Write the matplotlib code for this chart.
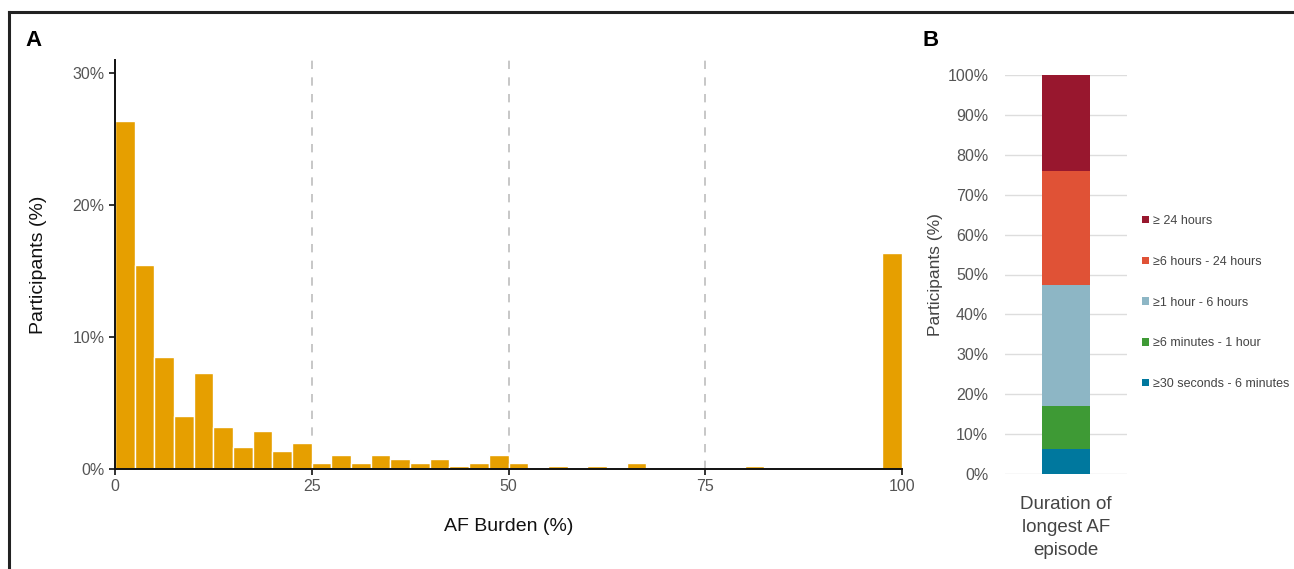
import matplotlib
matplotlib.use("Agg")
import matplotlib.pyplot as plt
from matplotlib.lines import Line2D
from matplotlib.patches import Patch
import numpy as np

plt.rcParams['font.family'] = ['Liberation Sans', 'DejaVu Sans']

# ---------------- Data ----------------
bin_edges = np.arange(0, 100.01, 2.5)  # 40 bins of 2.5%
burden_pct = [26.4, 15.5, 8.5, 4.0, 7.3, 3.2, 1.7, 2.9, 1.4, 2.0,
              0.48, 1.06, 0.48, 1.06, 0.76, 0.48, 0.76, 0.2, 0.48, 1.06,
              0.48, 0.0, 0.2, 0.0, 0.2, 0.0, 0.48, 0.0, 0.0, 0.0,
              0.0, 0.0, 0.2, 0.0, 0.0, 0.0, 0.0, 0.0, 0.0, 16.4]
x_ticks = [0, 25, 50, 75, 100]
x_ticklabels = ["0", "25", "50", "75", "100"]
y_ticks_a = [0, 10, 20, 30]
y_ticklabels_a = ["0%", "10%", "20%", "30%"]
ref_lines = [25, 50, 75]

duration_categories = ["\u226530 seconds - 6 minutes", "\u22656 minutes - 1 hour",
                       "\u22651 hour - 6 hours", "\u22656 hours - 24 hours",
                       "\u2265 24 hours"]
duration_pct = [6.3, 10.7, 30.4, 28.5, 24.1]
duration_colors = ["#00789E", "#3E9A35", "#8DB6C5", "#E05236", "#98172E"]
bar_label = "Duration of\nlongest AF\nepisode"

# ---------------- Figure ----------------
W, H = 1294, 569
fig = plt.figure(figsize=(W / 100, H / 100), dpi=100)

def ax_rect(x0, y0, x1, y1):
    return [x0 / W, 1 - y1 / H, (x1 - x0) / W, (y1 - y0) / H]

# Border lines (top and left)
fig.add_artist(Line2D([9 / W, 1.0], [1 - 11.5 / H, 1 - 11.5 / H], color="#222222", lw=2.2))
fig.add_artist(Line2D([9 / W, 9 / W], [1 - 11.5 / H, 0], color="#222222", lw=2.2))

# ---------------- Panel A ----------------
axA = fig.add_axes(ax_rect(115, 60, 902, 469))
left = bin_edges[:-1]
widths = np.diff(bin_edges)
axA.bar(left, burden_pct, width=widths, align="edge", color="#E69F00",
        edgecolor="white", linewidth=1.0, zorder=2)
for v in ref_lines:
    axA.axvline(v, color="#BDBDBD", ls=(0, (5, 5)), lw=1.2, zorder=1)
axA.set_xlim(0, 100)
axA.set_ylim(0, 31)
axA.set_xticks(x_ticks)
axA.set_xticklabels(x_ticklabels)
axA.set_yticks(y_ticks_a)
axA.set_yticklabels(y_ticklabels_a)
for s in ["top", "right"]:
    axA.spines[s].set_visible(False)
for s in ["left", "bottom"]:
    axA.spines[s].set_linewidth(1.4)
    axA.spines[s].set_color("#111111")
axA.tick_params(axis="both", labelsize=11.5, colors="#111111", labelcolor="#555555",
                length=4, width=1.2)
axA.set_xlabel("AF Burden (%)", fontsize=14, color="#111111", labelpad=17)
axA.set_ylabel("Participants (%)", fontsize=14, color="#111111", labelpad=18)
fig.text(33 / W, 1 - 40 / H, "A", fontsize=16, fontweight="bold", ha="center", va="center")

# ---------------- Panel B ----------------
axB = fig.add_axes(ax_rect(1005, 75, 1127, 474))
bottom = 0
for val, col in zip(duration_pct, duration_colors):
    axB.bar([0], [val], bottom=bottom, width=0.4, color=col, zorder=2)
    bottom += val
axB.set_xlim(-0.5, 0.5)
axB.set_ylim(0, 100)
axB.set_yticks(range(0, 101, 10))
axB.set_yticklabels([f"{v}%" for v in range(0, 101, 10)])
axB.yaxis.grid(True, color="#DDDDDD", lw=1.0, zorder=0)
axB.set_axisbelow(True)
for s in axB.spines.values():
    s.set_visible(False)
axB.set_xticks([0])
axB.set_xticklabels([bar_label], linespacing=1.45)
axB.tick_params(axis="y", length=0, labelsize=11.5, labelcolor="#555555", pad=12)
axB.tick_params(axis="x", length=0, labelsize=13.5, labelcolor="#444444", pad=16)
axB.set_ylabel("Participants (%)", fontsize=12.5, color="#444444", labelpad=3)
fig.text(931 / W, 1 - 40 / H, "B", fontsize=16, fontweight="bold", ha="center", va="center")

handles = [Patch(facecolor=c, edgecolor="none") for c in duration_colors[::-1]]
labels = duration_categories[::-1]
leg = fig.legend(handles, labels, loc="upper left",
                 bbox_to_anchor=(1137 / W, 1 - 210 / H), frameon=False,
                 fontsize=9, handlelength=0.55, handleheight=0.55,
                 handletextpad=0.3, labelspacing=2.3, borderaxespad=0)
for t in leg.get_texts():
    t.set_color("#444444")

fig.savefig("out.png", dpi=100)
